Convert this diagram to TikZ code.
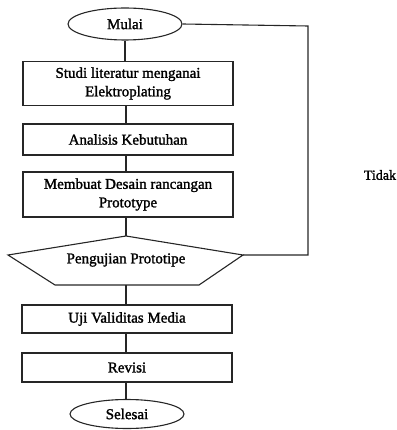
\documentclass[tikz,border=0pt]{standalone}
\usepackage{fontspec}
\setmainfont{Liberation Serif}[FakeBold=1.5]
\usetikzlibrary{shapes.geometric}
\begin{document}
\begin{tikzpicture}[x=1pt,y=-1pt,
  line width=1.1pt, draw=black!85,
  every node/.style={font=\fontsize{15}{18.5}\selectfont, text=black},
  procbox/.style={draw, minimum width=210pt, align=center, inner sep=0pt},
  term/.style={draw, ellipse, inner sep=0pt}]
\useasboundingbox (0,0) rectangle (396,430);
\node[term, minimum width=114pt, minimum height=32pt] (mulai) at (125,24) {Mulai};
\node[procbox, minimum height=44pt] (studi) at (128,83.5) {Studi literatur menganai\\Elektroplating};
\node[procbox, minimum height=31pt] (analisis) at (128,139.5) {Analisis Kebutuhan};
\node[procbox, minimum height=45pt] (desain) at (128,194.5) {Membuat Desain rancangan\\Prototype};
\coordinate (pt) at (126,236);
\coordinate (pl) at (8,255);
\coordinate (pbl) at (55,285);
\coordinate (pbr) at (199,285);
\coordinate (pr) at (243,255);
\draw (pt) -- (pl) -- (pbl) -- (pbr) -- (pr) -- cycle;
\node (uji) at (126,260) {Pengujian Prototipe};
\node[procbox, minimum height=28pt] (valid) at (127,319) {Uji Validitas Media};
\node[procbox, minimum height=29pt] (revisi) at (127,367.5) {Revisi};
\node[term, minimum width=114pt, minimum height=29pt] (selesai) at (127,414) {Selesai};
\node[anchor=west, font=\fontsize{14}{17}\selectfont] (tidak) at (360,175) {Tidak};
\coordinate (c1) at (308,26);
\coordinate (c2) at (308,255);
\draw (mulai.south) -- (studi.north -| mulai.south);
\draw (studi.south -| pt) -- (analisis.north -| pt);
\draw (analisis.south -| pt) -- (desain.north -| pt);
\draw (desain.south -| pt) -- (pt);
\draw (126,285) -- (valid.north -| 126,0);
\draw (valid.south -| pt) -- (revisi.north -| pt);
\draw (revisi.south -| pt) -- (selesai.north -| pt);
\draw (pr) -- (c2) -- (c1) -- (mulai.east);
\end{tikzpicture}
\end{document}
